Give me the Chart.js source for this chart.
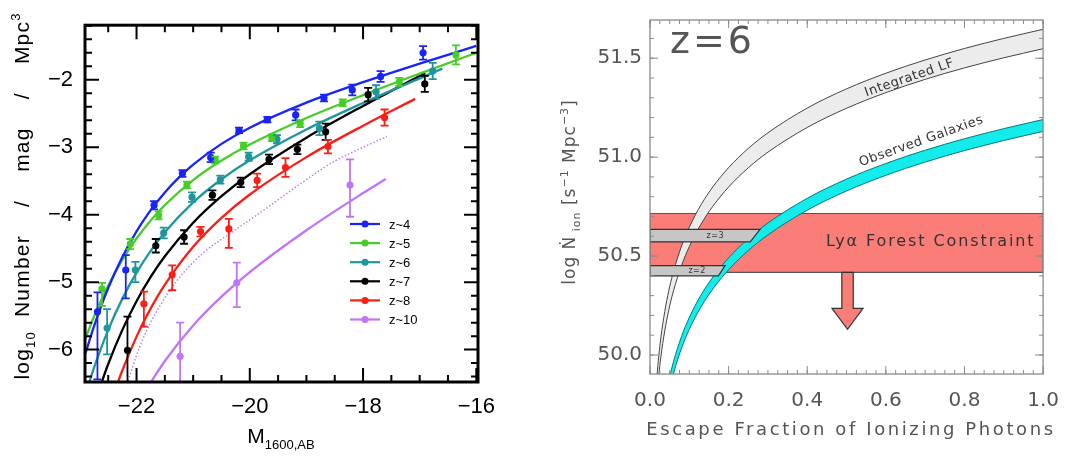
<!DOCTYPE html>
<html>
<head>
<meta charset="utf-8">
<script src="https://cdn.jsdelivr.net/npm/chart.js@4.4.1/dist/chart.umd.min.js"></script>
<style>
  body { margin: 0; background: #fff; }
  #lf { position: absolute; left: 0; top: 0; }
  #ion { position: absolute; left: 540px; top: 0; }
</style>
</head>
<body>
<canvas id="lf" width="540" height="457"></canvas>
<canvas id="ion" width="534" height="457"></canvas>
<script>
// ---- UV luminosity functions (log10 number / mag / Mpc^3) ----
const seriesNames = ['z~4', 'z~5', 'z~6', 'z~7', 'z~8', 'z~10'];
const seriesColors = ['rgb(25,35,250)', 'rgb(70,205,40)', 'rgb(30,150,155)', 'rgb(0,0,0)', 'rgb(250,30,20)', 'rgb(195,115,250)'];

// binned measurements: magnitude, log density, error up / down
const magZ4 = [-22.69, -22.19, -21.69, -21.19, -20.69, -20.19, -19.69, -19.19, -18.69, -18.19, -17.69, -16.94];
const phiZ4 = [-5.44, -4.82, -3.86, -3.39, -3.15, -2.75, -2.59, -2.52, -2.27, -2.15, -1.95, -1.60];
const upZ4  = [0.29, 0.22, 0.06, 0.05, 0.07, 0.04, 0.04, 0.08, 0.05, 0.08, 0.08, 0.10];
const dnZ4  = [1.00, 0.42, 0.06, 0.05, 0.07, 0.04, 0.04, 0.08, 0.05, 0.08, 0.08, 0.10];

const magZ5 = [-22.61, -22.11, -21.61, -21.11, -20.61, -20.11, -19.61, -19.11, -18.36, -17.36, -16.36];
const phiZ5 = [-5.10, -4.43, -4.01, -3.56, -3.19, -2.98, -2.86, -2.65, -2.34, -2.03, -1.63];
const upZ5  = [0.09, 0.07, 0.06, 0.05, 0.05, 0.05, 0.05, 0.05, 0.05, 0.06, 0.14];
const dnZ5  = [0.25, 0.08, 0.06, 0.05, 0.05, 0.05, 0.05, 0.05, 0.05, 0.06, 0.14];

const magZ6 = [-22.52, -22.02, -21.52, -21.02, -20.52, -20.02, -19.52, -18.77, -17.77, -16.77];
const phiZ6 = [-5.68, -4.82, -4.27, -3.74, -3.48, -3.14, -2.88, -2.72, -2.18, -1.87];
const upZ6  = [0.28, 0.12, 0.08, 0.07, 0.06, 0.06, 0.06, 0.10, 0.10, 0.12];
const dnZ6  = [0.39, 0.18, 0.08, 0.07, 0.06, 0.06, 0.06, 0.10, 0.10, 0.12];

const magZ7 = [-22.16, -21.66, -21.16, -20.66, -20.16, -19.66, -19.16, -18.66, -17.91, -16.91];
const phiZ7 = [-6.01, -4.46, -4.33, -3.71, -3.52, -3.18, -3.03, -2.77, -2.22, -2.06];
const upZ7  = [0.50, 0.10, 0.10, 0.07, 0.07, 0.07, 0.07, 0.12, 0.10, 0.12];
const dnZ7  = [1.00, 0.10, 0.10, 0.07, 0.07, 0.07, 0.07, 0.12, 0.10, 0.12];

const magZ8 = [-21.87, -21.37, -20.87, -20.37, -19.87, -19.37, -18.62, -17.62];
const phiZ8 = [-5.32, -4.89, -4.25, -4.21, -3.49, -3.30, -2.99, -2.56];
const upZ8  = [0.18, 0.14, 0.07, 0.15, 0.10, 0.14, 0.10, 0.12];
const dnZ8  = [0.34, 0.23, 0.07, 0.28, 0.10, 0.14, 0.10, 0.12];

const magZ10 = [-21.23, -20.23, -18.23];
const phiZ10 = [-6.10, -5.01, -3.56];
const upZ10  = [0.50, 0.30, 0.38];
const dnZ10  = [1.00, 0.36, 0.47];

// Schechter fits
const fitMagZ4 = [-22.9, -22.75, -22.5, -22.25, -22.0, -21.75, -21.5, -21.25, -21.0, -20.5, -20.0, -19.0, -18.0, -17.0, -16.0];
const fitPhiZ4 = [-6.049, -5.651, -5.087, -4.626, -4.246, -3.932, -3.669, -3.447, -3.257, -2.950, -2.709, -2.337, -2.035, -1.760, -1.497];
const fitMagZ5 = [-22.92, -22.75, -22.5, -22.25, -22.0, -21.75, -21.5, -21.0, -20.5, -20.0, -19.0, -18.0, -17.0, -16.0];
const fitPhiZ5 = [-5.875, -5.508, -5.049, -4.669, -4.352, -4.084, -3.856, -3.486, -3.197, -2.959, -2.566, -2.226, -1.908, -1.599];
const fitMagZ6 = [-22.85, -22.75, -22.5, -22.25, -22.0, -21.75, -21.5, -21.0, -20.5, -20.0, -19.0, -18.0, -17.0, -16.6];
const fitPhiZ6 = [-6.524, -6.267, -5.707, -5.244, -4.859, -4.535, -4.259, -3.817, -3.474, -3.193, -2.735, -2.343, -1.978, -1.834];
const fitMagZ7 = [-22.66, -22.5, -22.25, -22.0, -21.75, -21.5, -21.0, -20.5, -20.0, -19.0, -18.0, -17.0, -16.9];
const fitPhiZ7 = [-6.590, -6.213, -5.707, -5.282, -4.923, -4.616, -4.118, -3.725, -3.399, -2.858, -2.387, -1.944, -1.901];
const fitMagZ8 = [-22.4, -22.25, -22.0, -21.75, -21.5, -21.0, -20.5, -20.0, -19.0, -18.0, -17.08];
const fitPhiZ8 = [-6.653, -6.306, -5.807, -5.389, -5.037, -4.475, -4.046, -3.700, -3.146, -2.680, -2.282];
const fitMagZ10 = [-21.75, -21.5, -21.0, -20.5, -20.0, -19.0, -18.0, -17.6];
const fitPhiZ10 = [-6.488, -6.168, -5.641, -5.214, -4.851, -4.231, -3.679, -3.470];
// dotted z~10 alternative
const altMagZ10 = [-22.15, -21.95, -21.74, -21.45, -21.15, -20.8, -20.3, -19.8, -19.12, -18.53, -17.58];
const altPhiZ10 = [-6.46, -5.97, -5.58, -5.17, -4.84, -4.55, -4.25, -3.96, -3.55, -3.22, -2.84];

const magTicks = [-22, -20, -18, -16];
const phiTicks = [-6, -5, -4, -3, -2];

// ---- z=6 ionizing emissivity vs escape fraction ----
const fesc    = [0.015, 0.02, 0.025, 0.03, 0.04, 0.05, 0.06, 0.08, 0.10, 0.13, 0.16, 0.20, 0.25, 0.30, 0.40, 0.50, 0.60, 0.70, 0.80, 0.90, 1.00];
const lfHigh  = [49.822, 49.947, 50.044, 50.123, 50.248, 50.345, 50.424, 50.549, 50.646, 50.760, 50.850, 50.947, 51.044, 51.123, 51.248, 51.345, 51.424, 51.491, 51.549, 51.600, 51.646];
const lfLow   = [49.724, 49.849, 49.946, 50.025, 50.150, 50.247, 50.326, 50.451, 50.548, 50.662, 50.752, 50.849, 50.946, 51.025, 51.150, 51.247, 51.326, 51.393, 51.451, 51.502, 51.548];
const obsHigh = [49.366, 49.491, 49.588, 49.667, 49.792, 49.889, 49.968, 50.093, 50.190, 50.304, 50.394, 50.491, 50.588, 50.667, 50.792, 50.889, 50.968, 51.035, 51.093, 51.144, 51.190];
const obsLow  = [49.306, 49.431, 49.528, 49.607, 49.732, 49.829, 49.908, 50.033, 50.130, 50.244, 50.334, 50.431, 50.528, 50.607, 50.732, 50.829, 50.908, 50.975, 51.033, 51.084, 51.130];

// Ly-alpha forest band and the z=3 / z=2 measurements (outline corners)
const forestX = [0, 1, 1, 0, 0];
const forestY = [50.715, 50.715, 50.418, 50.418, 50.715];
const z3X = [0, 0.28, 0.255, 0, 0];
const z3Y = [50.635, 50.635, 50.572, 50.572, 50.635];
const z2X = [0, 0.191, 0.174, 0, 0];
const z2Y = [50.452, 50.452, 50.40, 50.40, 50.452];
const arrowX = [0.488, 0.517, 0.517, 0.542, 0.5025, 0.463, 0.488, 0.488];
const arrowY = [50.418, 50.418, 50.236, 50.236, 50.13, 50.236, 50.236, 50.418];

const fescTicks = [0, 0.2, 0.4, 0.6, 0.8, 1.0];
const ionTicks = [50.0, 50.5, 51.0, 51.5];

// ---------------------------------------------------------------
const xy = (xs, ys) => xs.map((x, i) => ({ x, y: ys[i] }));
const minus = v => String(v).replace('-', '\u2212');

function drawRich(ctx, parts, x, y, size, family) {
  const fontFor = t => `${t === 'n' ? size : Math.round(size * 0.62)}px ${family}`;
  let total = 0;
  for (const [s, t] of parts) { ctx.font = fontFor(t); total += ctx.measureText(s).width; }
  let cx = x - total / 2;
  for (const [s, t] of parts) {
    ctx.font = fontFor(t);
    const dy = t === 'sub' ? size * 0.28 : t === 'sup' ? -size * 0.42 : 0;
    ctx.fillText(s, cx, y + dy);
    cx += ctx.measureText(s).width;
  }
}

// inward ticks on all four sides plus the frame
const frameTicks = {
  id: 'frameTicks',
  afterDatasetsDraw(chart, args, o) {
    const { ctx, chartArea: a, scales: { x, y } } = chart;
    const steps = (lo, hi, step) => {
      const out = [];
      for (let k = Math.ceil(lo / step - 1e-6); k * step <= hi + 1e-9; k++) out.push(k * step);
      return out;
    };
    ctx.save();
    ctx.strokeStyle = o.color;
    ctx.lineWidth = o.tickWidth;
    ctx.beginPath();
    for (const [step, len] of [[o.xMinor, o.minorLen], [o.xMajor, o.majorLen]]) {
      for (const v of steps(x.min, x.max, step)) {
        const px = x.getPixelForValue(v);
        ctx.moveTo(px, a.bottom); ctx.lineTo(px, a.bottom - len);
        ctx.moveTo(px, a.top); ctx.lineTo(px, a.top + len);
      }
    }
    for (const [step, len] of [[o.yMinor, o.minorLen], [o.yMajor, o.majorLen]]) {
      for (const v of steps(y.min, y.max, step)) {
        const py = y.getPixelForValue(v);
        ctx.moveTo(a.left, py); ctx.lineTo(a.left + len, py);
        ctx.moveTo(a.right, py); ctx.lineTo(a.right - len, py);
      }
    }
    ctx.stroke();
    ctx.lineWidth = o.frameWidth;
    ctx.strokeRect(a.left, a.top, a.right - a.left, a.bottom - a.top);
    ctx.restore();
  }
};

// vertical error bars with caps
const errorBars = {
  id: 'errorBars',
  afterDatasetsDraw(chart) {
    const { ctx, chartArea: a } = chart;
    const ys = chart.scales.y;
    ctx.save();
    ctx.beginPath();
    ctx.rect(a.left, a.top, a.right - a.left, a.bottom - a.top);
    ctx.clip();
    chart.data.datasets.forEach((ds, i) => {
      if (!ds.errUp) return;
      ctx.strokeStyle = ds.borderColor;
      ctx.lineWidth = 1.8;
      chart.getDatasetMeta(i).data.forEach((pt, j) => {
        const v = ds.data[j].y;
        const top = ys.getPixelForValue(v + ds.errUp[j]);
        const bot = ys.getPixelForValue(v - ds.errDn[j]);
        ctx.beginPath();
        ctx.moveTo(pt.x, top); ctx.lineTo(pt.x, bot);
        ctx.moveTo(pt.x - 4, top); ctx.lineTo(pt.x + 4, top);
        ctx.moveTo(pt.x - 4, bot); ctx.lineTo(pt.x + 4, bot);
        ctx.stroke();
      });
    });
    ctx.restore();
  }
};

// legend and axis titles of the luminosity function panel
const lfText = {
  id: 'lfText',
  afterDraw(chart) {
    const { ctx } = chart;
    ctx.save();
    ctx.textBaseline = 'middle';
    seriesNames.forEach((name, i) => {
      const yy = 224 + i * 19.1;
      ctx.strokeStyle = seriesColors[i];
      ctx.fillStyle = seriesColors[i];
      ctx.lineWidth = 2.2;
      ctx.beginPath(); ctx.moveTo(350, yy); ctx.lineTo(380, yy); ctx.stroke();
      ctx.beginPath(); ctx.arc(365, yy, 3.5, 0, Math.PI * 2); ctx.fill();
      ctx.fillStyle = '#000';
      ctx.font = '13px "Liberation Sans"';
      ctx.fillText(name, 389, yy + 1);
    });
    ctx.textBaseline = 'alphabetic';
    ctx.fillStyle = '#000';
    drawRich(ctx, [['M', 'n'], ['1600,AB', 'sub']], 281, 443, 21, '"Liberation Sans"');
    ctx.translate(29, 196);
    ctx.rotate(-Math.PI / 2);
    ctx.letterSpacing = '1.2px';
    drawRich(ctx, [['log', 'n'], ['10', 'sub'], ['  Number    /    mag    /    Mpc', 'n'], ['3', 'sup']], 0, 0, 21, '"Liberation Sans"');
    ctx.restore();
  }
};

const lfSets = [];
const bins = [[magZ4, phiZ4, upZ4, dnZ4], [magZ5, phiZ5, upZ5, dnZ5], [magZ6, phiZ6, upZ6, dnZ6],
              [magZ7, phiZ7, upZ7, dnZ7], [magZ8, phiZ8, upZ8, dnZ8], [magZ10, phiZ10, upZ10, dnZ10]];
const fits = [[fitMagZ4, fitPhiZ4], [fitMagZ5, fitPhiZ5], [fitMagZ6, fitPhiZ6],
              [fitMagZ7, fitPhiZ7], [fitMagZ8, fitPhiZ8], [fitMagZ10, fitPhiZ10]];
lfSets.push({
  data: xy(altMagZ10, altPhiZ10), borderColor: seriesColors[5], borderWidth: 1.4,
  borderDash: [1.5, 2], pointRadius: 0, cubicInterpolationMode: 'monotone', order: 3
});
fits.forEach(([m, p], i) => lfSets.push({
  data: xy(m, p), borderColor: seriesColors[i], borderWidth: 2.3,
  pointRadius: 0, cubicInterpolationMode: 'monotone', order: 2
}));
bins.forEach(([m, p, up, dn], i) => lfSets.push({
  data: xy(m, p), errUp: up, errDn: dn, showLine: false,
  borderColor: seriesColors[i], backgroundColor: seriesColors[i],
  pointRadius: 3.6, pointBorderWidth: 0, order: 1
}));

new Chart(document.getElementById('lf'), {
  type: 'line',
  data: { datasets: lfSets },
  options: {
    responsive: false, animation: false, events: [],
    layout: { padding: { left: 0, right: 62, top: 8, bottom: 0 } },
    plugins: {
      legend: { display: false }, tooltip: { enabled: false },
      frameTicks: { color: '#000', tickWidth: 2, frameWidth: 3, majorLen: 14, minorLen: 7,
                    xMajor: 2, xMinor: 0.5, yMajor: 1, yMinor: 0.2 }
    },
    scales: {
      x: {
        type: 'linear', min: -22.91, max: -15.97,
        afterFit: s => { s.height = 75; },
        afterBuildTicks: s => { s.ticks = magTicks.map(v => ({ value: v })); },
        grid: { display: false, drawTicks: false }, border: { display: false },
        ticks: { padding: 12, color: '#000', maxRotation: 0, autoSkip: false,
                 font: { family: '"Liberation Sans"', size: 22 }, callback: v => minus(v) }
      },
      y: {
        min: -6.48, max: -1.19,
        afterFit: s => { s.width = 85; },
        afterBuildTicks: s => { s.ticks = phiTicks.map(v => ({ value: v })); },
        grid: { display: false, drawTicks: false }, border: { display: false },
        ticks: { padding: 12, color: '#000', autoSkip: false,
                 font: { family: '"Liberation Sans"', size: 22 }, callback: v => minus(v) }
      }
    }
  },
  plugins: [errorBars, frameTicks, lfText]
});

// ---------------------------------------------------------------
const GREY_TEXT = '#555';
const ionText = {
  id: 'ionText',
  afterDraw(chart) {
    const { ctx, scales: { x, y } } = chart;
    ctx.save();
    ctx.fillStyle = GREY_TEXT;
    ctx.textBaseline = 'alphabetic';
    ctx.textAlign = 'left';
    ctx.letterSpacing = '3px';
    ctx.font = '38px "DejaVu Sans"';
    ctx.fillText('z=6', 130, 53);

    ctx.fillStyle = '#333';
    ctx.textAlign = 'center';
    ctx.textBaseline = 'middle';
    const label = (txt, fx, fy, deg, size, spacing) => {
      ctx.save();
      ctx.letterSpacing = spacing + 'px';
      ctx.font = `${size}px "DejaVu Sans"`;
      ctx.translate(x.getPixelForValue(fx), y.getPixelForValue(fy));
      ctx.rotate(deg * Math.PI / 180);
      ctx.fillText(txt, 0, 0);
      ctx.restore();
    };
    label('Integrated LF', 0.66, 51.40, -19, 13, 0.5);
    label('Observed Galaxies', 0.69, 51.08, -19.5, 13, 0.5);
    label('Ly\u03b1 Forest Constraint', 0.714, 50.574, 0, 16, 1.9);
    label('z=3', 0.166, 50.604, 0, 8, 0.5);
    label('z=2', 0.12, 50.427, 0, 8, 0.5);

    ctx.fillStyle = GREY_TEXT;
    ctx.textAlign = 'left';
    ctx.textBaseline = 'alphabetic';
    ctx.letterSpacing = '2.6px';
    ctx.font = '18px "DejaVu Sans"';
    const title = 'Escape Fraction of Ionizing Photons';
    ctx.fillText(title, 311 - ctx.measureText(title).width / 2, 435);

    ctx.letterSpacing = '1px';
    ctx.translate(35, 192);
    ctx.rotate(-Math.PI / 2);
    drawRich(ctx, [['log \u1E44', 'n'], [' ion', 'sub'], [' [s', 'n'], ['\u22121', 'sup'], [' Mpc', 'n'], ['\u22123', 'sup'], [']', 'n']], 0, 0, 17, '"DejaVu Sans"');
    ctx.restore();
  }
};

const curve = (ys, color, fill, width, order) => ({
  data: xy(fesc, ys), borderColor: color, borderWidth: width, backgroundColor: fill,
  fill: fill ? '+1' : false, pointRadius: 0, cubicInterpolationMode: 'monotone', order
});
const shape = (xs, ys, color, fill, order) => ({
  data: xy(xs, ys), borderColor: color, borderWidth: 1.2, backgroundColor: fill,
  fill: 'shape', pointRadius: 0, tension: 0, order
});

new Chart(document.getElementById('ion'), {
  type: 'line',
  data: {
    datasets: [
      shape(forestX, forestY, '#555', 'rgb(250,125,120)', 10),
      curve(lfHigh, '#444', 'rgb(236,236,236)', 1, 8),
      curve(lfLow, '#444', null, 1, 7.5),
      curve(obsHigh, 'rgb(0,120,125)', 'rgb(20,235,235)', 1, 6),
      curve(obsLow, 'rgb(0,120,125)', null, 1, 5.5),
      shape(z3X, z3Y, '#333', 'rgb(198,198,198)', 4),
      shape(z2X, z2Y, '#333', 'rgb(198,198,198)', 4),
      shape(arrowX, arrowY, '#333', 'rgb(250,125,120)', 2)
    ]
  },
  options: {
    responsive: false, animation: false, events: [],
    layout: { padding: { left: 0, right: 22, top: 3, bottom: 0 } },
    plugins: {
      legend: { display: false }, tooltip: { enabled: false },
      filler: { drawTime: 'beforeDatasetDraw' },
      frameTicks: { color: '#8a8a8a', tickWidth: 1, frameWidth: 1.3, majorLen: 8, minorLen: 4,
                    xMajor: 0.2, xMinor: 0.025, yMajor: 0.5, yMinor: 0.1 }
    },
    scales: {
      x: {
        type: 'linear', min: 0, max: 1,
        afterFit: s => { s.height = 83; },
        afterBuildTicks: s => { s.ticks = fescTicks.map(v => ({ value: v })); },
        grid: { display: false, drawTicks: false }, border: { display: false },
        ticks: { padding: 15, color: GREY_TEXT, maxRotation: 0, autoSkip: false,
                 font: { family: '"DejaVu Sans"', size: 20 }, callback: v => v.toFixed(1) }
      },
      y: {
        min: 49.904, max: 51.693,
        afterFit: s => { s.width = 110; },
        afterBuildTicks: s => { s.ticks = ionTicks.map(v => ({ value: v })); },
        grid: { display: false, drawTicks: false }, border: { display: false },
        ticks: { padding: 8, color: GREY_TEXT, autoSkip: false,
                 font: { family: '"DejaVu Sans"', size: 20 }, callback: v => v.toFixed(1) }
      }
    }
  },
  plugins: [frameTicks, ionText]
});
</script>
</body>
</html>
